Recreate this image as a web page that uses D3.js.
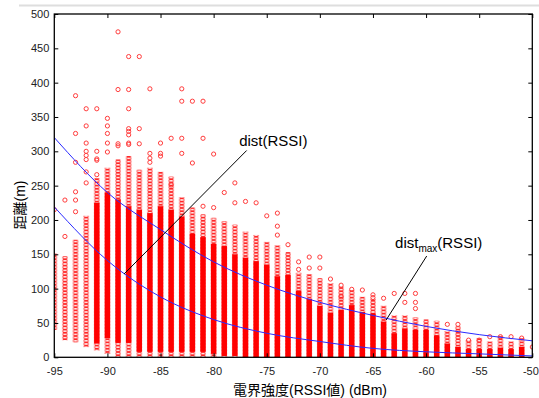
<!DOCTYPE html>
<html><head><meta charset="utf-8">
<script src="https://cdn.jsdelivr.net/npm/d3@7"></script>
<style>body{margin:0;background:#fff}svg{display:block}</style>
</head><body>
<svg id="c" width="539" height="398"></svg>
<script>
// ---- data ----
const rssi = [-95,-94,-93,-92,-91,-90,-89,-88,-87,-86,-85,-84,-83,-82,-81,-80,-79,-78,-77,-76,-75,-74,-73,-72,-71,-70,-69,-68,-67,-66,-65,-64,-63,-62,-61,-60,-59,-58,-57,-56,-55,-54,-53,-52,-51,-50];
// range of the densely stacked circles in each column
const ringLo = [43,28,25,18,13,8,3,3,0,0,0,0,0,0,0,0,0,0,0,0,0,0,0,0,0,0,0,0,0,0,0,0,0,0,0,0,0,0,0,0,0,0,0,0,0,null];
const ringHi = [148,144,168,203,258,273,285,290,270,273,267,260,230,215,205,200,195,190,180,175,165,160,150,120,118,112,105,100,95,85,82,72,58,58,55,52,50,35,42,22,25,20,28,20,25,null];
// range where overlapping circles form a solid bar
const solidLo = [null,null,null,null,20,28,21,21,8,8,8,8,8,8,8,5,2,2,0,0,0,0,0,0,0,0,0,0,0,0,0,0,0,0,0,0,0,0,0,0,0,0,0,0,0,null];
const solidHi = [null,null,null,null,225,240,230,220,215,210,220,215,205,180,175,165,162,150,145,140,135,118,120,97,85,75,65,69,76,66,64,52,35,42,40,40,32,20,15,12,12,12,14,12,15,null];
// isolated points [RSSI, distance]
const outliers = [
 [-95,215],
 [-94,229],[-94,176],
 [-93,381],[-93,326],[-93,284],[-93,241],[-93,229],[-93,212],
 [-92,362],[-92,337],[-92,312],[-92,300],[-92,294],[-92,288],[-92,270],[-92,254],
 [-91,362],[-91,300],[-91,289],[-91,287],[-91,266],
 [-90,348],[-90,337],[-90,326],[-90,312],[-90,299],
 [-89,474],[-89,390],[-89,311],[-89,308],
 [-88,438],[-88,390],[-88,362],[-88,333],[-88,329],[-88,324],[-88,312],[-88,310],
 [-87,438],[-87,333],[-87,311],
 [-86,391],[-86,297],[-86,290],[-86,284],
 [-85,312],[-85,297],[-85,293],
 [-84,319],[-84,251],
 [-83,391],[-83,373],[-83,319],[-83,297],
 [-82,373],[-82,283],
 [-81,373],[-81,319],[-81,220],
 [-80,296],[-80,218],
 [-79,240],
 [-78,254],[-78,225],
 [-77,227],
 [-76,225],
 [-75,206],
 [-74,210],[-74,191],[-74,178],
 [-73,164],
 [-72,139],[-72,128],
 [-71,146],[-71,130],
 [-70,146],[-70,130],
 [-69,114],
 [-68,88],[-68,105],
 [-67,99],
 [-66,98],
 [-65,91],[-65,87],
 [-64,86],
 [-63,93],
 [-62,93],[-62,80],
 [-61,93],[-61,80],[-61,71],
 [-58,48],[-57,48],[-56,25],[-55,25],[-54,30],[-53,30],[-52,30],[-51,28],[-50,15]
];
// fitted curves
const curveX = [-95,-90,-85,-80,-75,-70,-65,-60,-55,-50];
const distMax = [320,240,186,139,105,80,61,45,33,24];
const dist = [219,141,88,55,35,23,13,8,5,2];
// ticks
const xTicks = [-95,-90,-85,-80,-75,-70,-65,-60,-55,-50];
const yTicks = [0,50,100,150,200,250,300,350,400,450,500];
// annotations (data units)
const annotations = [
 {label:"dist", sub:"", rest:"(RSSI)", tx:-77.6, ty:307.7, x1:-88.43, y1:121.3, x2:-76.89, y2:301.2},
 {label:"dist", sub:"max", rest:"(RSSI)", tx:-62.92, ty:159.2, x1:-63.76, y1:54.3, x2:-59.94, y2:147.5}
];
const xTitle = "電界強度(RSSI値) (dBm)";
const yTitle = "距離(m)";

// ---- drawing ----
const svg = d3.select("#c");
const L=54.3, R=532.3, T=14, B=357.3;
const x = d3.scaleLinear().domain([-95,-50]).range([L,R]);
const y = d3.scaleLinear().domain([0,500]).range([B,T]);
const font = "'Liberation Sans', Arial, 'Noto Sans CJK JP', sans-serif";
const RED = "#ff2626";

svg.append("line").attr("x1",19).attr("x2",539).attr("y1",5.5).attr("y2",5.5)
  .attr("stroke","#dedede").attr("stroke-width",2);

const defs = svg.append("defs");
defs.append("clipPath").attr("id","clip")
  .append("rect").attr("x",L).attr("y",T).attr("width",R-L).attr("height",B-T);

const cols = rssi.map((r,i)=>({i, r, rl:ringLo[i], rh:ringHi[i], sl:solidLo[i], sh:solidHi[i]}));
const ringCols = cols.filter(d=>d.rh!=null);
// stacked-circle texture, one pattern per column so the circles line up with the column
const STEP = 3.2;
const pats = defs.selectAll("pattern").data(ringCols).join("pattern")
  .attr("id",d=>"ring"+d.i).attr("patternUnits","userSpaceOnUse")
  .attr("x",d=>x(d.r)-3).attr("y",0).attr("width",6).attr("height",STEP);
[-STEP/2, STEP/2, STEP*1.5].forEach(cy=>{
  pats.append("circle").attr("cx",3).attr("cy",cy).attr("r",2.1)
    .attr("fill","none").attr("stroke",RED).attr("stroke-width",0.9);
});

const plot = svg.append("g").attr("clip-path","url(#clip)");
plot.selectAll("rect.ring").data(ringCols).join("rect").attr("class","ring")
  .attr("x",d=>x(d.r)-3).attr("width",6)
  .attr("y",d=>y(d.rh)-2.2).attr("height",d=>y(d.rl)-y(d.rh)+4.4)
  .attr("fill",d=>`url(#ring${d.i})`);
plot.selectAll("rect.solid").data(cols.filter(d=>d.sh!=null)).join("rect").attr("class","solid")
  .attr("x",d=>x(d.r)-2.7).attr("width",5.4)
  .attr("y",d=>y(d.sh)).attr("height",d=>y(d.sl)-y(d.sh))
  .attr("fill","#ff0000");
plot.selectAll("circle").data(outliers).join("circle")
  .attr("cx",d=>x(d[0])).attr("cy",d=>y(d[1])).attr("r",2.1)
  .attr("fill","none").attr("stroke","#ff3c3c").attr("stroke-width",1);

const line = d3.line().x((d,i)=>x(curveX[i])).y(d=>y(d)).curve(d3.curveMonotoneX);
plot.append("path").attr("d",line(distMax)).attr("fill","none").attr("stroke","#2a2aff").attr("stroke-width",1);
plot.append("path").attr("d",line(dist)).attr("fill","none").attr("stroke","#2a2aff").attr("stroke-width",1);

// axes
function style(g){
  g.select(".domain").remove();
  g.selectAll(".tick line").attr("stroke","#000");
  g.selectAll("text").attr("font-family",font).attr("font-size",11).attr("fill","#222");
}
const gx = svg.append("g").attr("transform",`translate(0,${B})`)
  .call(d3.axisBottom(x).tickValues(xTicks).tickSizeInner(-4).tickSizeOuter(0).tickPadding(10).tickFormat(d=>String(d))).call(style);
gx.selectAll(".tick text").filter(d=>d===-50).attr("text-anchor","end").attr("dx",6);
svg.append("g").attr("transform",`translate(0,${T})`)
  .call(d3.axisTop(x).tickValues(xTicks).tickSizeInner(-4).tickSizeOuter(0).tickFormat("")).call(style);
svg.append("g").attr("transform",`translate(${L},0)`)
  .call(d3.axisLeft(y).tickValues(yTicks).tickSizeInner(-4).tickSizeOuter(0).tickPadding(5).tickFormat(d=>String(d))).call(style);
svg.append("g").attr("transform",`translate(${R},0)`)
  .call(d3.axisRight(y).tickValues(yTicks).tickSizeInner(-4).tickSizeOuter(0).tickFormat("")).call(style);

svg.append("rect").attr("x",L).attr("y",T).attr("width",R-L).attr("height",B-T)
  .attr("fill","none").attr("stroke","#000").attr("stroke-width",1.3);

// annotations
annotations.forEach(a=>{
  svg.append("line").attr("x1",x(a.x1)).attr("y1",y(a.y1)).attr("x2",x(a.x2)).attr("y2",y(a.y2))
    .attr("stroke","#000").attr("stroke-width",1);
  const t = svg.append("text").attr("x",x(a.tx)).attr("y",y(a.ty))
    .attr("font-family",font).attr("font-size",15).attr("fill","#000");
  t.append("tspan").text(a.label);
  if(a.sub){ t.append("tspan").attr("font-size",10).attr("dy",4).text(a.sub);
             t.append("tspan").attr("dy",-4).text(a.rest); }
  else t.append("tspan").text(a.rest);
});

svg.append("text").attr("x",233).attr("y",395).attr("font-family",font).attr("font-size",14)
  .attr("fill","#000").text(xTitle);
svg.append("text").attr("transform","translate(25,205) rotate(-90)").attr("text-anchor","middle")
  .attr("font-family",font).attr("font-size",14).attr("fill","#000").text(yTitle);
</script>
</body></html>
